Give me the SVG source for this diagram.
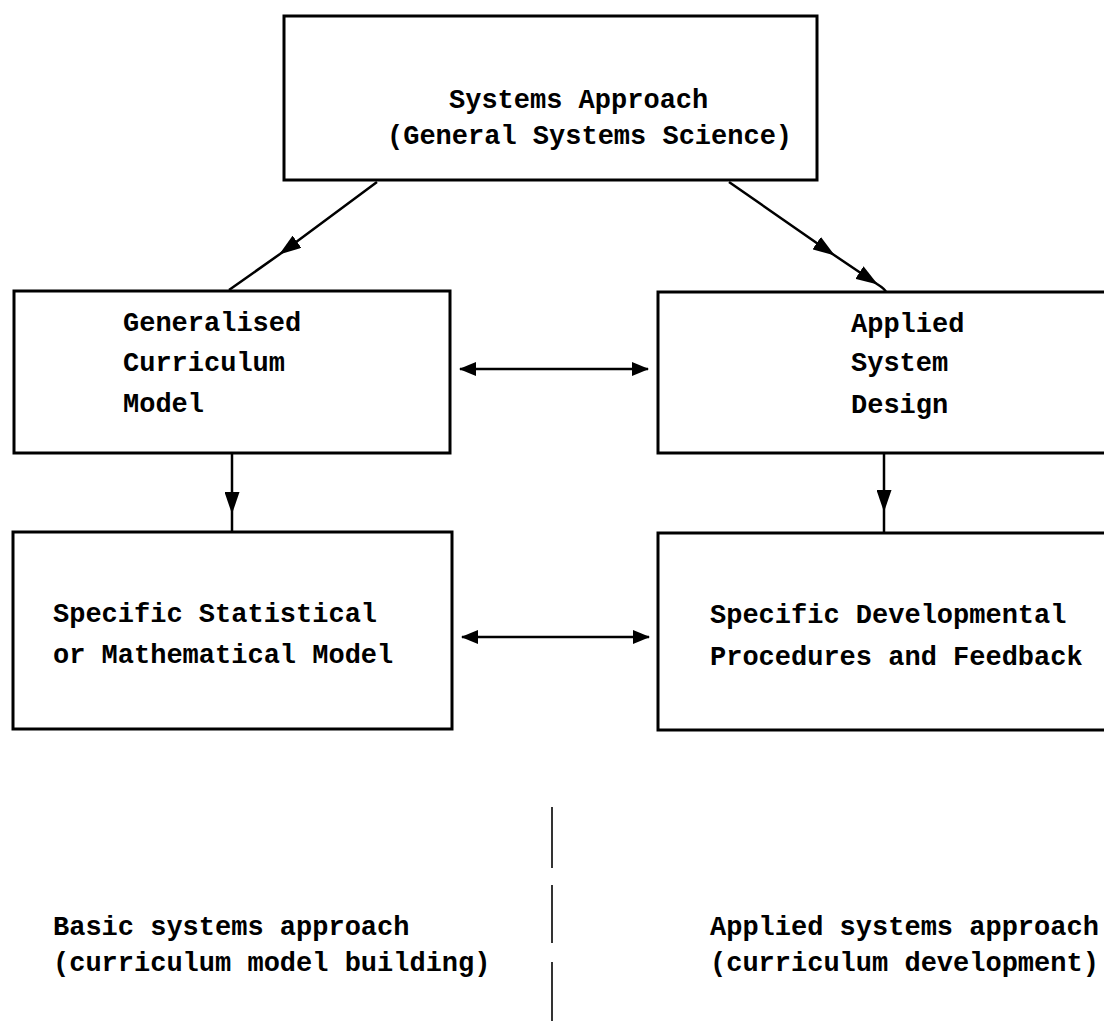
<svg xmlns="http://www.w3.org/2000/svg" width="1104" height="1021" viewBox="0 0 1104 1021">
<style>
.box{fill:#fff;stroke:#000;stroke-width:3}
.t{font-family:"Liberation Mono","Courier New",monospace;font-weight:bold;font-size:27px;fill:#000}
.c{fill:none;stroke:#000;stroke-width:2.5}
.d{fill:none;stroke:#000;stroke-width:1.6}
</style>
<defs>
<marker id="ah" markerUnits="userSpaceOnUse" markerWidth="22" markerHeight="15" viewBox="0 0 22 15" refX="21" refY="7.5" orient="auto-start-reverse">
<path d="M0,0 L22,7.5 L0,15 z" fill="#000"/>
</marker>
<marker id="ahs" markerUnits="userSpaceOnUse" markerWidth="17" markerHeight="14" viewBox="0 0 17 14" refX="16" refY="7" orient="auto-start-reverse">
<path d="M0,0 L17,7 L0,14 z" fill="#000"/>
</marker>
</defs>
<rect width="1104" height="1021" fill="#fff"/>
<g id="connectors">
<path class="c" d="M377,182 L280,254 L229,290" marker-mid="url(#ah)"/>
<path class="c" d="M729,182 L834,255 L877,284 Q885,289 886,292" marker-mid="url(#ah)"/>
<path class="c" d="M232,453 L232,513 L232,532" marker-mid="url(#ah)"/>
<path class="c" d="M884,453 L884,511 L884,533" marker-mid="url(#ah)"/>
<line class="c" x1="460" y1="369" x2="648" y2="369" marker-start="url(#ahs)" marker-end="url(#ahs)"/>
<line class="c" x1="462" y1="637" x2="649" y2="637" marker-start="url(#ahs)" marker-end="url(#ahs)"/>
</g>
<g id="systems-approach">
<rect class="box" x="284" y="16" width="533" height="164"/>
<text class="t" x="449" y="108">Systems Approach</text>
<text class="t" x="387" y="144">(General Systems Science)</text>
</g>
<g id="generalised-curriculum-model">
<rect class="box" x="14" y="291" width="436" height="162"/>
<text class="t" x="123" y="331">Generalised</text>
<text class="t" x="123" y="371">Curriculum</text>
<text class="t" x="123" y="412">Model</text>
</g>
<g id="applied-system-design">
<rect class="box" x="658" y="292" width="460" height="161"/>
<text class="t" x="851" y="332">Applied</text>
<text class="t" x="851" y="371">System</text>
<text class="t" x="851" y="413">Design</text>
</g>
<g id="specific-statistical-model">
<rect class="box" x="13" y="532" width="439" height="197"/>
<text class="t" x="53" y="622">Specific Statistical</text>
<text class="t" x="53" y="663">or Mathematical Model</text>
</g>
<g id="specific-developmental-procedures">
<rect class="box" x="658" y="533" width="460" height="197"/>
<text class="t" x="710" y="623">Specific Developmental</text>
<text class="t" x="710" y="665">Procedures and Feedback</text>
</g>
<g id="divider">
<line class="d" x1="552" y1="807" x2="552" y2="868"/>
<line class="d" x1="552" y1="885" x2="552" y2="943"/>
<line class="d" x1="552" y1="962" x2="552" y2="1021"/>
</g>
<g id="labels">
<text class="t" x="53" y="935">Basic systems approach</text>
<text class="t" x="53" y="971">(curriculum model building)</text>
<text class="t" x="710" y="935">Applied systems approach</text>
<text class="t" x="710" y="971">(curriculum development)</text>
</g>
</svg>
